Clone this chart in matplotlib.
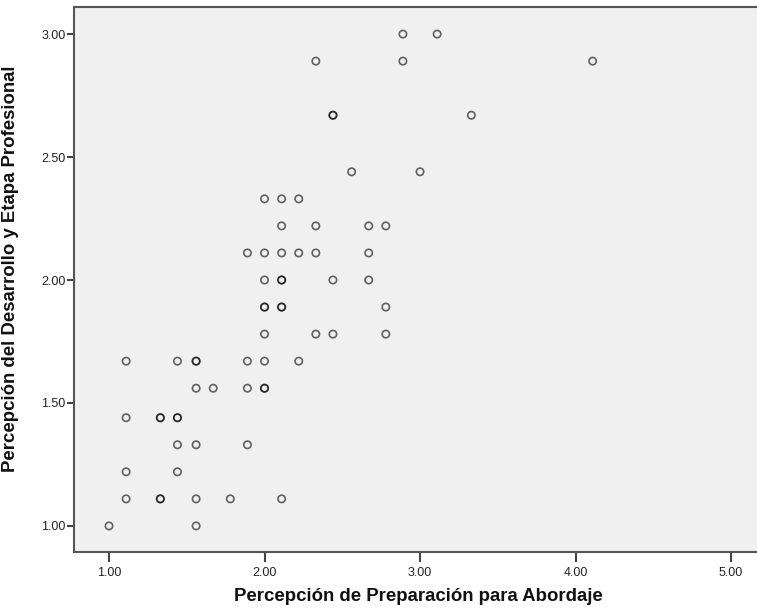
import matplotlib
matplotlib.use("Agg")
import matplotlib.pyplot as plt
from matplotlib.ticker import FormatStrFormatter

# puntajes medios (escala 1-5); repetidos = puntos superpuestos
prep = [1.00, 1.56,
        1.11, 1.33, 1.33, 1.56, 1.78, 2.11,
        1.11, 1.44,
        1.44, 1.56, 1.89,
        1.11, 1.33, 1.33, 1.44, 1.44,
        1.56, 1.67, 1.89, 2.00, 2.00,
        1.11, 1.44, 1.56, 1.56, 1.89, 2.00, 2.22,
        2.00, 2.33, 2.44, 2.78,
        2.00, 2.00, 2.11, 2.11, 2.78,
        2.00, 2.11, 2.11, 2.44, 2.67,
        1.89, 2.00, 2.11, 2.22, 2.33, 2.67,
        2.11, 2.33, 2.67, 2.78,
        2.00, 2.11, 2.22,
        2.56, 3.00,
        2.44, 2.44, 3.33,
        2.33, 2.89, 4.11,
        2.89, 3.11]
desarrollo = [1.00, 1.00,
              1.11, 1.11, 1.11, 1.11, 1.11, 1.11,
              1.22, 1.22,
              1.33, 1.33, 1.33,
              1.44, 1.44, 1.44, 1.44, 1.44,
              1.56, 1.56, 1.56, 1.56, 1.56,
              1.67, 1.67, 1.67, 1.67, 1.67, 1.67, 1.67,
              1.78, 1.78, 1.78, 1.78,
              1.89, 1.89, 1.89, 1.89, 1.89,
              2.00, 2.00, 2.00, 2.00, 2.00,
              2.11, 2.11, 2.11, 2.11, 2.11, 2.11,
              2.22, 2.22, 2.22, 2.22,
              2.33, 2.33, 2.33,
              2.44, 2.44,
              2.67, 2.67, 2.67,
              2.89, 2.89, 2.89,
              3.00, 3.00]

xticks = [1, 2, 3, 4, 5]
yticks = [1.0, 1.5, 2.0, 2.5, 3.0]

plt.rcParams['font.family'] = ['Liberation Sans', 'DejaVu Sans']

fig = plt.figure(figsize=(7.57, 6.16), dpi=100)
ax = fig.add_axes([0.0978, 0.1039, 0.9022, 0.8847])
ax.set_facecolor('#f0f0f0')

ax.scatter(prep, desarrollo, s=28, facecolors='none', edgecolors='#000000',
           linewidths=1.2, alpha=0.6, zorder=3)

ax.set_xlim(0.775, 5.167)
ax.set_ylim(0.894, 3.11)
ax.set_xticks(xticks)
ax.set_yticks(yticks)
ax.xaxis.set_major_formatter(FormatStrFormatter('%.2f'))
ax.yaxis.set_major_formatter(FormatStrFormatter('%.2f'))
ax.tick_params(direction='out', width=1.5, color='#444444',
               labelsize=9, labelcolor='#222222')
ax.tick_params(axis='x', length=7.2, pad=3.6)
ax.tick_params(axis='y', length=5, pad=1)

for side in ['left', 'bottom', 'top']:
    ax.spines[side].set_color('#555555')
    ax.spines[side].set_linewidth(1.5)
ax.spines['right'].set_visible(False)

ax.set_xlabel('Percepción de Preparación para Abordaje', fontsize=13.4,
              fontweight='bold', color='#111111')
ax.set_ylabel('Percepción del Desarrollo y Etapa Profesional', fontsize=13.4,
              fontweight='bold', color='#111111')
ax.xaxis.set_label_coords(0.504, -0.066)
ax.yaxis.set_label_coords(-0.081, 0.52)

fig.savefig('out.png', dpi=100)
